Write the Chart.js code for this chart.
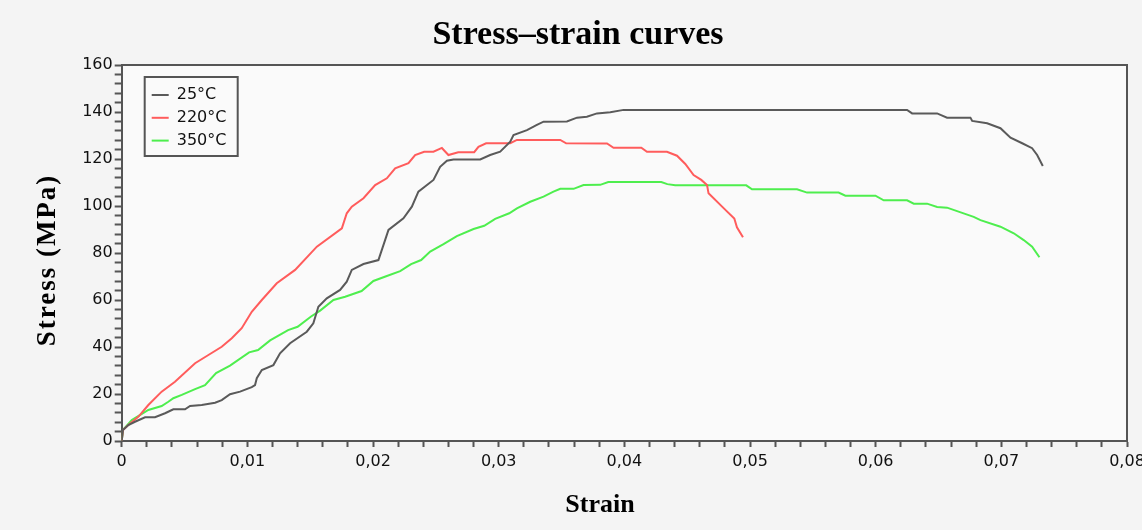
<!DOCTYPE html>
<html>
<head>
<meta charset="utf-8">
<title>Stress–strain curves</title>
<script src="https://cdn.jsdelivr.net/npm/chart.js@4.4.0/dist/chart.umd.min.js"></script>
<style>
  body { margin: 0; background: #f4f4f4; }
  canvas { display: block; }
</style>
</head>
<body>
<canvas id="grafico" width="1142" height="530"></canvas>
<script>
// valores (strain, stress em MPa)
const strain25 = [0, 0.0001, 0.00053, 0.00106, 0.00186, 0.00265, 0.00345, 0.00411, 0.00504, 0.00544, 0.00637, 0.00743, 0.00796, 0.00862, 0.00942, 0.01035, 0.01061, 0.01075, 0.01115, 0.01207, 0.0126, 0.0134, 0.01473, 0.01525, 0.01565, 0.01632, 0.01738, 0.01791, 0.01831, 0.01924, 0.02043, 0.02096, 0.02123, 0.02242, 0.02309, 0.02361, 0.02481, 0.02534, 0.02588, 0.0264, 0.02853, 0.02932, 0.03012, 0.03092, 0.03118, 0.03225, 0.03304, 0.03357, 0.03543, 0.03623, 0.03702, 0.03782, 0.03888, 0.03994, 0.0625, 0.0629, 0.06489, 0.06568, 0.06754, 0.06768, 0.06887, 0.06993, 0.07073, 0.07166, 0.07245, 0.07285, 0.0733];
const stress25 = [0, 4.7, 6.8, 8.2, 10.1, 10.1, 11.8, 13.5, 13.5, 14.9, 15.3, 16.3, 17.4, 19.9, 21.0, 22.9, 23.8, 26.7, 30.2, 32.3, 37.3, 41.6, 46.5, 50.1, 57.1, 60.7, 64.3, 67.8, 72.8, 75.3, 77.0, 85.5, 89.8, 94.8, 99.7, 106.1, 111.1, 116.7, 119.3, 119.8, 119.8, 121.7, 123.1, 127.4, 130.2, 132.3, 134.5, 135.9, 136.0, 137.6, 138.0, 139.4, 139.9, 140.9, 140.9, 139.4, 139.4, 137.6, 137.6, 136.2, 135.2, 133.1, 129.1, 126.7, 124.6, 121.7, 117.0];

const strain220 = [0, 0.0001, 0.00053, 0.00132, 0.00212, 0.00318, 0.00424, 0.00584, 0.0069, 0.00796, 0.00876, 0.00955, 0.01035, 0.01115, 0.01234, 0.0138, 0.01553, 0.01752, 0.01791, 0.01831, 0.01924, 0.02017, 0.0211, 0.02176, 0.02282, 0.02335, 0.02407, 0.02481, 0.02548, 0.026, 0.02678, 0.02805, 0.02839, 0.029, 0.03092, 0.03145, 0.0349, 0.03537, 0.03862, 0.03914, 0.04135, 0.0418, 0.04339, 0.04419, 0.04485, 0.04551, 0.04612, 0.04658, 0.0467, 0.0479, 0.04875, 0.04896, 0.04944];
const stress220 = [0, 4.7, 6.8, 10.3, 15.3, 21.0, 25.2, 33.1, 36.6, 40.1, 43.7, 48.0, 55.0, 60.0, 67.1, 72.8, 82.7, 90.5, 96.9, 99.7, 103.3, 108.9, 111.8, 116.0, 118.2, 121.7, 123.1, 123.1, 124.7, 121.7, 122.9, 122.9, 125.2, 126.7, 126.7, 128.1, 128.1, 126.7, 126.6, 124.8, 124.8, 123.1, 123.1, 121.4, 117.9, 113.2, 111.1, 108.9, 105.4, 99.1, 94.7, 90.9, 86.7];

const strain350 = [0, 0.0001, 0.0008, 0.00212, 0.00318, 0.00371, 0.00411, 0.00478, 0.00584, 0.00663, 0.00751, 0.00862, 0.01014, 0.01085, 0.01181, 0.01324, 0.014, 0.01507, 0.01579, 0.01685, 0.01778, 0.01909, 0.02003, 0.0211, 0.02216, 0.02303, 0.02383, 0.02455, 0.02561, 0.02667, 0.028, 0.02885, 0.02972, 0.03084, 0.03145, 0.03251, 0.03357, 0.03436, 0.0349, 0.03596, 0.03675, 0.03808, 0.03872, 0.04294, 0.04342, 0.04405, 0.0497, 0.05016, 0.05374, 0.05454, 0.05705, 0.05759, 0.05998, 0.06064, 0.0625, 0.06303, 0.06409, 0.06489, 0.06568, 0.0678, 0.06834, 0.06993, 0.07099, 0.07178, 0.07245, 0.07303];
const stress350 = [0, 4.7, 8.9, 13.2, 14.9, 16.7, 18.2, 19.6, 22.1, 23.8, 28.9, 32.1, 37.7, 38.7, 42.8, 47.2, 48.6, 53.0, 55.5, 60.0, 61.4, 63.8, 68.1, 70.2, 72.3, 75.3, 77.0, 80.6, 83.8, 87.2, 90.2, 91.6, 94.5, 96.9, 99.0, 101.8, 104.0, 106.1, 107.3, 107.3, 108.9, 109.0, 110.2, 110.2, 109.3, 108.8, 108.8, 107.1, 107.1, 105.7, 105.7, 104.4, 104.4, 102.4, 102.4, 101.0, 101.0, 99.6, 99.3, 95.4, 94.0, 91.2, 88.4, 85.5, 82.7, 78.2];

const xTickLabels = ["0", "0,01", "0,02", "0,03", "0,04", "0,05", "0,06", "0,07", "0,08"];
const yTickLabels = ["0", "20", "40", "60", "80", "100", "120", "140", "160"];

const corEixo = "#555555";
const fundoPlot = "#fafafa";

function toPoints(strain, stress) {
  return strain.map((x, i) => ({ x: x, y: stress[i] }));
}

// fundo da area, moldura, legenda e titulos
const molduraPlugin = {
  id: "moldura",
  beforeDraw(chart) {
    const { ctx, chartArea } = chart;
    ctx.save();
    ctx.fillStyle = fundoPlot;
    ctx.fillRect(chartArea.left, chartArea.top, chartArea.width, chartArea.height);
    ctx.restore();
  },
  afterDraw(chart) {
    const { ctx, chartArea } = chart;
    ctx.save();

    ctx.strokeStyle = corEixo;
    ctx.lineWidth = 2;
    ctx.beginPath();
    ctx.moveTo(chartArea.left, chartArea.top);
    ctx.lineTo(chartArea.right, chartArea.top);
    ctx.lineTo(chartArea.right, chartArea.bottom);
    ctx.stroke();

    // legenda
    const lx = chartArea.left + 23;
    const ly = chartArea.top + 12;
    ctx.fillStyle = fundoPlot;
    ctx.fillRect(lx, ly, 93, 79);
    ctx.strokeStyle = corEixo;
    ctx.lineWidth = 2;
    ctx.strokeRect(lx, ly, 93, 79);
    ctx.font = "16px 'DejaVu Sans'";
    ctx.textBaseline = "middle";
    ctx.textAlign = "left";
    chart.data.datasets.forEach((ds, i) => {
      const y = ly + 18 + i * 22.8;
      ctx.strokeStyle = ds.borderColor;
      ctx.lineWidth = 2;
      ctx.beginPath();
      ctx.moveTo(lx + 7, y);
      ctx.lineTo(lx + 24, y);
      ctx.stroke();
      ctx.fillStyle = "#111";
      ctx.fillText(ds.label, lx + 32, y);
    });

    // titulos
    ctx.fillStyle = "#000";
    ctx.textAlign = "center";
    ctx.font = "bold 34px 'Liberation Serif'";
    ctx.fillText("Stress–strain curves", 578, 35);
    ctx.font = "bold 26px 'Liberation Serif'";
    ctx.fillText("Strain", 600, 505);
    ctx.translate(48, 260);
    ctx.rotate(-Math.PI / 2);
    ctx.letterSpacing = "2px";
    ctx.font = "bold 27px 'Liberation Serif'";
    ctx.fillText("Stress (MPa)", 0, 0);

    ctx.restore();
  },
};

const ctxGrafico = document.getElementById("grafico").getContext("2d");

new Chart(ctxGrafico, {
  type: "scatter",
  data: {
    datasets: [
      {
        label: "25°C",
        data: toPoints(strain25, stress25),
        borderColor: "#5a5a5a",
      },
      {
        label: "220°C",
        data: toPoints(strain220, stress220),
        borderColor: "#ff5c5c",
      },
      {
        label: "350°C",
        data: toPoints(strain350, stress350),
        borderColor: "#4eee4e",
      },
    ],
  },
  options: {
    responsive: false,
    animation: false,
    showLine: true,
    layout: { padding: { top: 65, right: 15, left: 0, bottom: 0 } },
    elements: {
      point: { radius: 0 },
      line: { borderWidth: 2, tension: 0 },
    },
    plugins: {
      legend: { display: false },
      title: { display: false },
      tooltip: { enabled: false },
    },
    scales: {
      x: {
        type: "linear",
        min: 0,
        max: 0.08,
        border: { display: true, color: corEixo, width: 2 },
        grid: {
          drawOnChartArea: false,
          drawTicks: true,
          tickLength: 6,
          tickColor: corEixo,
          tickWidth: 2,
        },
        ticks: {
          stepSize: 0.002,
          autoSkip: false,
          maxRotation: 0,
          padding: 5,
          color: "#111",
          font: { family: "'DejaVu Sans'", size: 16 },
          callback: (v) => {
            const k = Math.round(v / 0.01);
            return Math.abs(v / 0.01 - k) < 1e-6 ? xTickLabels[k] : "";
          },
        },
        afterFit: (scale) => {
          scale.height = 89;
          scale.paddingLeft = 0;
          scale.paddingRight = 0;
        },
      },
      y: {
        min: 0,
        max: 160,
        border: { display: true, color: corEixo, width: 2 },
        grid: {
          drawOnChartArea: false,
          drawTicks: true,
          tickLength: 7,
          tickColor: corEixo,
          tickWidth: 2,
        },
        ticks: {
          stepSize: 4,
          autoSkip: false,
          padding: 2,
          color: "#111",
          font: { family: "'DejaVu Sans'", size: 16 },
          callback: (v) => (v % 20 === 0 ? yTickLabels[v / 20] : ""),
        },
        afterFit: (scale) => {
          scale.width = 121.7;
          scale.paddingTop = 0;
          scale.paddingBottom = 0;
        },
      },
    },
  },
  plugins: [molduraPlugin],
});
</script>
</body>
</html>
